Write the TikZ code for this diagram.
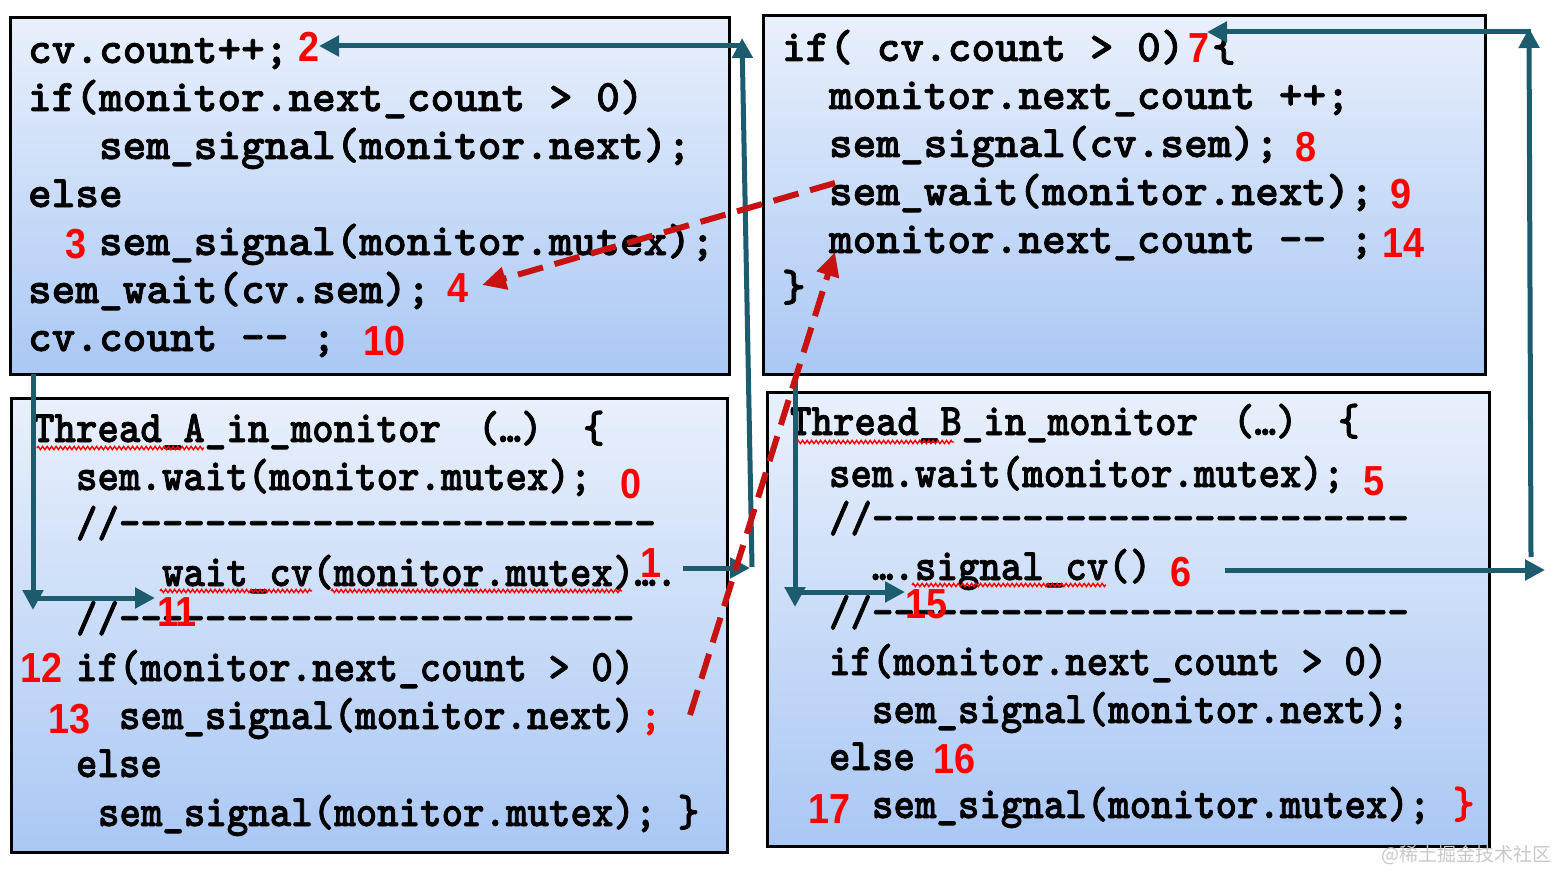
\documentclass[tikz,border=0pt]{standalone}
\usepackage{fontspec}
\usetikzlibrary{arrows.meta,decorations.pathmorphing}
\newfontfamily\codeT{lmmonolt10-bold.otf}[FakeBold=1.6]
\newfontfamily\codeB{lmmonolt10-bold.otf}[FakeStretch=0.907,FakeBold=1.6]
\newfontfamily\numf[FakeStretch=0.9]{Liberation Sans}
\newfontfamily\cjkf{Noto Sans CJK SC}
\definecolor{boxtop}{RGB}{233,240,252}
\definecolor{boxbot}{RGB}{170,200,244}
\definecolor{tealc}{RGB}{28,92,110}
\definecolor{dashred}{RGB}{200,18,18}
\definecolor{numred}{RGB}{255,0,0}
\definecolor{wmgray}{RGB}{200,200,200}
\newcommand\dsh[1]{\foreach\k in {1,...,#1}{-\kern0pt}}
\begin{document}
\begin{tikzpicture}[x=1pt,y=-1pt,
  codebox/.style={draw=black,line width=3pt,top color=boxtop,bottom color=boxbot,inner sep=0pt,outer sep=0pt},
  ct/.style={anchor=base west,inner sep=0pt,outer sep=0pt,font={\codeT\fontsize{45.1}{48}\selectfont}},
  cb/.style={anchor=base west,inner sep=0pt,outer sep=0pt,font={\codeB\fontsize{45.1}{48}\selectfont}},
  num/.style={anchor=base west,inner sep=0pt,outer sep=0pt,text=numred,font={\numf\bfseries\fontsize{42}{48}\selectfont}},
  tealarrow/.style={draw=tealc,line width=5pt,-{Triangle[length=20pt,width=20pt]}},
  redarrow/.style={draw=dashred,line width=6pt,dash pattern=on 26pt off 12pt,-{Triangle[length=24pt,width=22pt]}},
  squig/.style={draw=red,line width=1.4pt,decorate,decoration={zigzag,amplitude=1.6pt,segment length=4.5pt}}
]
\useasboundingbox (0,0) rectangle (1558,872);
\fill[white] (0,0) rectangle (1558,872);

% boxes
\node[codebox,minimum width=719pt,minimum height=356pt] (tl) at (369.5,196) {};
\node[codebox,minimum width=722pt,minimum height=358pt] (tr) at (1124,195) {};
\node[codebox,minimum width=716pt,minimum height=454pt] (bl) at (369,625) {};
\node[codebox,minimum width=722pt,minimum height=454pt] (br) at (1128,619) {};

% top-left code
\node[ct] (tl1) at (28,63) {cv.count++;};
\node[ct] (tl2) at (28,111) {if(monitor.next\_count > 0)};
\node[ct] (tl3) at (99,159) {sem\_signal(monitor.next);};
\node[ct] (tl4) at (28,207) {else};
\node[ct] (tl5) at (99,255) {sem\_signal(monitor.mutex);};
\node[ct] (tl6) at (28,303) {sem\_wait(cv.sem);};
\node[ct] (tl7) at (28,351) {cv.count -\kern0pt- ;};
\node[num] (n2) at (298,62) {2};
\node[num] (n3) at (65,258) {3};
\node[num] (n4) at (447,302) {4};
\node[num] (n10) at (363,355) {10};

% top-right code
\node[ct] (tr1) at (782,61) {if( cv.count > 0)};
\node[ct] (tr1b) at (1212,61) {\{};
\node[ct] (tr2) at (829,109) {monitor.next\_count ++;};
\node[ct] (tr3) at (829,157) {sem\_signal(cv.sem);};
\node[ct] (tr4) at (829,205) {sem\_wait(monitor.next);};
\node[ct] (tr5) at (829,253) {monitor.next\_count -\kern0pt- ;};
\node[ct] (tr6) at (782,301) {\}};
\node[num] (n7) at (1188,63) {7};
\node[num] (n8) at (1295,161) {8};
\node[num] (n9) at (1390,208) {9};
\node[num] (n14) at (1382,257) {14};

% bottom-left code
\node[cb] (bl1) at (33,442) {Thread\_A\_in\_monitor};
\node[cb] (bl1b) at (478,442) {(…)};
\node[cb] (bl1c) at (583,442) {\{};
\node[cb] (bl2) at (76,490) {sem.wait(monitor.mutex);};
\node[cb] (bl3) at (76,537) {//\dsh{25}};
\node[cb] (bl4) at (162,586) {wait\_cv(monitor.mutex)….};
\node[cb] (bl5) at (76,632) {//\dsh{24}};
\node[cb] (bl6) at (76,681) {if(monitor.next\_count > 0)};
\node[cb] (bl7) at (119,729) {sem\_signal(monitor.next)};
\node[cb,text=numred] (bl7b) at (640,729) {;};
\node[cb] (bl8) at (76,777) {else};
\node[cb] (bl9) at (98,826) {sem\_signal(monitor.mutex);~\}};
\node[num] (n0) at (620,498) {0};
\node[num] (n1) at (640,577) {1};
\node[num] (n11) at (157,626) {11};
\node[num] (n12) at (20,682) {12};
\node[num] (n13) at (48,733) {13};

% bottom-right code
\node[cb] (br1) at (790,435) {Thread\_B\_in\_monitor};
\node[cb] (br1b) at (1233,435) {(…)};
\node[cb] (br1c) at (1338,435) {\{};
\node[cb] (br2) at (829,487) {sem.wait(monitor.mutex);};
\node[cb] (br3) at (829,532) {//\dsh{25}};
\node[cb] (br4) at (872,580) {….signal\_cv()};
\node[cb] (br5) at (829,626) {//\dsh{25}};
\node[cb] (br6) at (829,675) {if(monitor.next\_count > 0)};
\node[cb] (br7) at (872,723) {sem\_signal(monitor.next);};
\node[cb] (br8) at (829,770) {else};
\node[cb] (br9) at (872,818) {sem\_signal(monitor.mutex);};
\node[cb,text=numred] (br9b) at (1453,818) {\}};
\node[num] (n5) at (1363,495) {5};
\node[num] (n6) at (1170,586) {6};
\node[num] (n15) at (905,618) {15};
\node[num] (n16) at (933,773) {16};
\node[num] (n17) at (808,823) {17};

% spell-check squiggles
\draw[squig] (37,448) -- (204,448);
\draw[squig] (160,591) -- (312,591);
\draw[squig] (331,591) -- (622,591);
\draw[squig] (797,442) -- (954,442);
\draw[squig] (912,585) -- (1106,585);

% teal connectors
\coordinate (a1s) at (683,568);
\coordinate (a1m) at (750,568);
\coordinate (a1b) at (752,567);
\coordinate (a1t) at (742,38);
\coordinate (a1h) at (742,46);
\draw[tealarrow] (a1s) -- (a1m);
\draw[tealarrow] (a1b) -- (a1t);
\draw[tealarrow] (a1h) -- (n2.east |- a1h);

\coordinate (a2s) at (1225,570);
\coordinate (a2e) at (1545,570);
\coordinate (a2b) at (1531,557);
\coordinate (a2t) at (1529,28);
\coordinate (a2h) at (1531,32);
\coordinate (a2p) at (1207,32);
\draw[tealarrow] (a2s) -- (a2e);
\draw[tealarrow] (a2b) -- (a2t);
\draw[tealarrow] (a2h) -- (a2p);

\coordinate (a3s) at (33,374);
\coordinate (a3e) at (33,610);
\coordinate (a3h) at (36,598);
\coordinate (a3p) at (155,598);
\draw[tealarrow] (a3s) -- (a3e);
\draw[tealarrow] (a3h) -- (a3p);

\coordinate (a4s) at (795,374);
\coordinate (a4e) at (795,607);
\coordinate (a4h) at (797,592);
\coordinate (a4p) at (905,592);
\draw[tealarrow] (a4s) -- (a4e);
\draw[tealarrow] (a4h) -- (a4p);

% red dashed connectors
\coordinate (r1s) at (835,183);
\coordinate (r1e) at (482,285);
\draw[redarrow] (r1s) -- (r1e);
\coordinate (r2s) at (690,715);
\coordinate (r2e) at (835,252);
\draw[redarrow] (r2s) -- (r2e);

% watermark
\node[anchor=east,inner sep=0pt,text=wmgray,font={\cjkf\fontsize{19}{19}\selectfont}] (wm) at (1552,855) {@稀土掘金技术社区};
\end{tikzpicture}
\end{document}
